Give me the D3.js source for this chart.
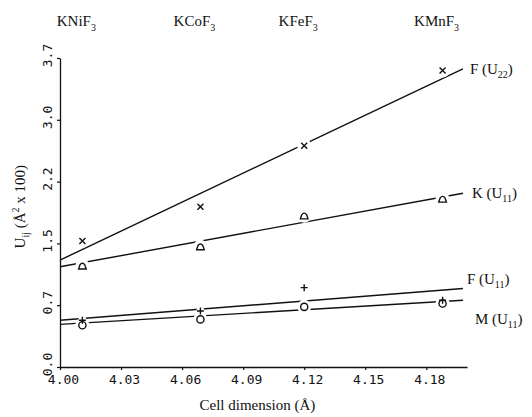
<!DOCTYPE html>
<html>
<head>
<meta charset="utf-8">
<script src="https://cdn.jsdelivr.net/npm/d3@7"></script>
<style>
  body { margin: 0; background: #fff; }
  svg { display: block; }
  .tick text { font-family: "DejaVu Sans Mono", monospace; font-size: 13px; fill: #111; }
  .lbl { font-family: "Liberation Serif", serif; fill: #111; }
</style>
</head>
<body>
<div id="chart"></div>
<script>
// compounds and their cell dimensions (A)
const compounds = ["KNiF", "KCoF", "KFeF", "KMnF"];
const cellDim = [4.011, 4.069, 4.120, 4.188];

// measured Uij (A^2 x 100)
const fU22 = [1.51, 1.92, 2.65, 3.55];
const kU11 = [1.21, 1.44, 1.81, 2.01];
const fU11 = [0.56, 0.67, 0.95, 0.80];
const mU11 = [0.50, 0.57, 0.72, 0.76];

// fitted straight lines, value at start and end of fit range
const fitRange = [4.00, 4.198];
const fU22Fit = [1.28, 3.57];
const kU11Fit = [1.20, 2.08];
const fU11Fit = [0.56, 0.94];
const mU11Fit = [0.51, 0.80];

const xTicks = [4.00, 4.03, 4.06, 4.09, 4.12, 4.15, 4.18];
const yTicks = [0, 0.74, 1.48, 2.22, 2.96, 3.7];

const width = 532, height = 417;
const margin = { left: 60, right: 65, top: 58, bottom: 50 };

const svg = d3.select("#chart").append("svg")
    .attr("width", width)
    .attr("height", height);

const x = d3.scaleLinear()
    .domain([4.00, 4.20])
    .range([margin.left, width - margin.right]);

const y = d3.scaleLinear()
    .domain([0, 3.7])
    .range([height - margin.bottom, margin.top]);

// axes
const xAxis = d3.axisBottom(x)
    .tickValues(xTicks)
    .tickFormat(d3.format(".2f"))
    .tickSize(3)
    .tickSizeOuter(0);

const yAxis = d3.axisLeft(y)
    .tickValues(yTicks)
    .tickFormat(d3.format(".1f"))
    .tickSize(3)
    .tickSizeOuter(0);

const gx = svg.append("g")
    .attr("transform", "translate(0," + y(0) + ")")
    .call(xAxis);
gx.selectAll("text").attr("dy", "0.85em").attr("dx", 3);

const gy = svg.append("g")
    .attr("transform", "translate(" + x(4.00) + ",0)")
    .call(yAxis);
gy.selectAll(".tick text")
    .attr("x", 0).attr("dy", 0)
    .attr("text-anchor", "middle")
    .attr("transform", "translate(-8,-3) rotate(-90)");

svg.selectAll(".domain").attr("stroke", "#111").attr("stroke-width", 1.3);
svg.selectAll(".tick line").attr("stroke", "#111").attr("stroke-width", 1.2);

// fit lines
const fits = [fU22Fit, kU11Fit, fU11Fit, mU11Fit];
svg.append("g").selectAll("line")
    .data(fits)
    .enter()
    .append("line")
    .attr("x1", x(fitRange[0]))
    .attr("x2", x(fitRange[1]))
    .attr("y1", d => y(d[0]))
    .attr("y2", d => y(d[1]))
    .attr("stroke", "#111")
    .attr("stroke-width", 1.4);

// markers with white halo that breaks the lines
const series = [
    { values: fU22, shape: "cross" },
    { values: kU11, shape: "dome" },
    { values: mU11, shape: "circle" },
    { values: fU11, shape: "plus" }
];

const pts = [];
series.forEach(s => s.values.forEach((v, i) => pts.push({ x: cellDim[i], v: v, shape: s.shape })));

svg.append("g").selectAll("circle")
    .data(pts)
    .enter()
    .append("circle")
    .attr("cx", d => x(d.x))
    .attr("cy", d => y(d.v))
    .attr("r", d => d.shape === "plus" ? 4 : 7)
    .attr("fill", "#fff");

const mk = svg.append("g")
    .attr("fill", "none")
    .attr("stroke", "#111")
    .attr("stroke-width", 1.4);

pts.forEach(d => {
    const cx = x(d.x), cy = y(d.v);
    if (d.shape === "cross") {
        mk.append("path").attr("d", `M${cx - 3},${cy - 3}L${cx + 3},${cy + 3}M${cx - 3},${cy + 3}L${cx + 3},${cy - 3}`);
    } else if (d.shape === "plus") {
        mk.append("path").attr("d", `M${cx - 3.5},${cy}L${cx + 3.5},${cy}M${cx},${cy - 3.5}L${cx},${cy + 3.5}`);
    } else if (d.shape === "circle") {
        mk.append("circle").attr("cx", cx).attr("cy", cy).attr("r", 3.6);
    } else {
        mk.append("path").attr("d", `M${cx - 3.8},${cy + 3}L${cx + 3.8},${cy + 3}L${cx + 2.5},${cy - 1}Q${cx},${cy - 4.5} ${cx - 2.5},${cy - 1}Z`);
    }
});

// top compound labels
const topLabels = svg.append("g").attr("class", "lbl").attr("font-size", 15);
compounds.forEach((c, i) => {
    const t = topLabels.append("text")
        .attr("x", x(cellDim[i]) - 6)
        .attr("y", 26)
        .attr("text-anchor", "middle");
    t.append("tspan").text(c);
    t.append("tspan").attr("font-size", 10).attr("dy", 5).text("3");
});

// series labels at line ends
const seriesLabels = [
    { name: "F", sub: "22", fit: fU22Fit, dx: 7, dy: 5 },
    { name: "K", sub: "11", fit: kU11Fit, dx: 9, dy: 5 },
    { name: "F", sub: "11", fit: fU11Fit, dx: 4, dy: -4 },
    { name: "M", sub: "11", fit: mU11Fit, dx: 12, dy: 24 }
];
seriesLabels.forEach(s => {
    const t = svg.append("text")
        .attr("class", "lbl")
        .attr("font-size", 15)
        .attr("x", x(fitRange[1]) + s.dx)
        .attr("y", y(s.fit[1]) + s.dy);
    t.append("tspan").text(s.name + " (U");
    t.append("tspan").attr("font-size", 10).attr("dy", 4).text(s.sub);
    t.append("tspan").attr("dy", -4).text(")");
});

// axis titles
svg.append("text")
    .attr("class", "lbl")
    .attr("font-size", 15)
    .attr("x", x(4.097))
    .attr("y", 410)
    .attr("text-anchor", "middle")
    .text("Cell dimension (Å)");

const yt = svg.append("text")
    .attr("class", "lbl")
    .attr("font-size", 15)
    .attr("text-anchor", "middle")
    .attr("transform", "translate(25," + y(1.92) + ") rotate(-90)");
yt.append("tspan").text("U");
yt.append("tspan").attr("font-size", 10).attr("dy", 4).text("ij");
yt.append("tspan").attr("dy", -4).text(" (Å");
yt.append("tspan").attr("font-size", 10).attr("dy", -6).text("2");
yt.append("tspan").attr("dy", 6).text(" x 100)");
</script>
</body>
</html>
